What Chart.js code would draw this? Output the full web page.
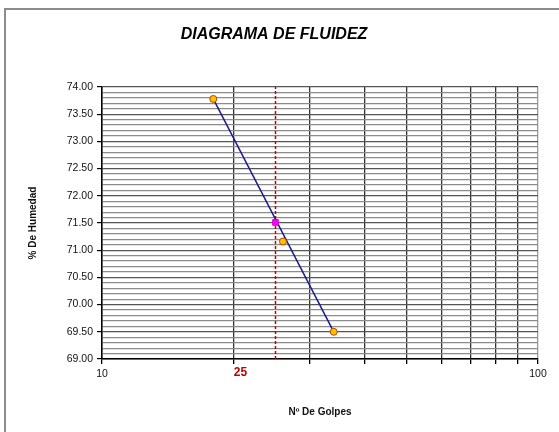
<!DOCTYPE html>
<html>
<head>
<meta charset="utf-8">
<script src="https://cdn.jsdelivr.net/npm/chart.js@4"></script>
<style>
html, body { margin: 0; padding: 0; background: #fff; }
</style>
</head>
<body>
<canvas id="chart" width="559" height="432"></canvas>
<script>
// Diagrama de fluidez (limite liquido)
const golpes = [18, 26, 34];
const humedad = [73.78, 71.16, 69.50];
const ajusteGolpes = [18, 34];
const ajusteHumedad = [73.78, 69.50];
const golpesRef = 25;
const humedadRef = 71.51;
const refLineY = [69, 74];
const xTicks = [10, 20, 30, 40, 50, 60, 70, 80, 90, 100];
const xTickLabels = ['10', '', '', '', '', '', '', '', '', '100'];
const yTickLabels = ['69.00', '69.50', '70.00', '70.50', '71.00', '71.50', '72.00', '72.50', '73.00', '73.50', '74.00'];

const FONT = '"Liberation Sans", Arial, sans-serif';

function isMajorY(v) {
    return Math.abs(v * 2 - Math.round(v * 2)) < 1e-6;
}

// frame, title and the red "25" label
const decor = {
    id: 'decor',
    beforeDraw(chart) {
        const c = chart.ctx;
        c.save();
        c.fillStyle = '#fff';
        c.fillRect(0, 0, chart.width, chart.height);
        c.strokeStyle = '#8c8c8c';
        c.lineWidth = 2;
        c.beginPath();
        c.moveTo(5, chart.height);
        c.lineTo(5, 9);
        c.lineTo(chart.width, 9);
        c.stroke();
        c.restore();
    },
    afterDraw(chart) {
        const c = chart.ctx;
        const xs = chart.scales.x;
        c.save();
        c.fillStyle = '#000';
        c.font = 'italic bold 16px ' + FONT;
        c.textAlign = 'center';
        c.textBaseline = 'middle';
        c.fillText('DIAGRAMA DE FLUIDEZ', 274, 35);
        c.fillStyle = '#c00000';
        c.font = 'bold 12px ' + FONT;
        c.fillText(String(golpesRef), xs.getPixelForValue(golpesRef) - 35, xs.bottom - 59);
        c.restore();
    }
};

new Chart(document.getElementById('chart'), {
    type: 'scatter',
    data: {
        datasets: [
            {
                label: 'Ensayos',
                data: golpes.map((g, i) => ({ x: g, y: humedad[i] })),
                pointRadius: 3.5,
                pointBackgroundColor: '#ffc000',
                pointBorderColor: '#b04a00',
                pointBorderWidth: 1,
                order: 0
            },
            {
                label: 'Humedad a 25 golpes',
                data: [{ x: golpesRef, y: humedadRef }],
                pointStyle: 'rect',
                pointRadius: 4,
                pointBackgroundColor: '#ff00ff',
                pointBorderColor: '#d000d0',
                order: 1
            },
            {
                label: 'Ajuste',
                data: ajusteGolpes.map((g, i) => ({ x: g, y: ajusteHumedad[i] })),
                showLine: true,
                borderColor: '#1c1c8a',
                borderWidth: 1.5,
                pointRadius: 0,
                order: 2
            },
            {
                label: '25 golpes',
                data: refLineY.map(y => ({ x: golpesRef, y })),
                showLine: true,
                borderColor: '#c00000',
                borderWidth: 1.5,
                borderDash: [3, 2],
                pointRadius: 0,
                order: 3
            }
        ]
    },
    options: {
        responsive: false,
        animation: false,
        layout: { padding: { top: 87, left: 0, right: 21, bottom: 0 } },
        plugins: {
            legend: { display: false },
            tooltip: { enabled: false },
            title: { display: false }
        },
        scales: {
            x: {
                type: 'logarithmic',
                min: 10,
                max: 100,
                afterBuildTicks: s => { s.ticks = xTicks.map(v => ({ value: v })); },
                afterFit: s => { s.height = 73; },
                ticks: {
                    autoSkip: false,
                    maxRotation: 0,
                    padding: 4,
                    color: '#111',
                    font: { family: FONT, size: 10.5 },
                    callback: (v, i) => xTickLabels[i]
                },
                grid: {
                    color: ctx => ctx.tick && ctx.tick.value === 100 ? '#9a9a9a' : '#333',
                    lineWidth: 1.3,
                    tickLength: 5,
                    tickColor: '#000'
                },
                border: { color: '#000', width: 1.5 },
                title: {
                    display: true,
                    text: 'Nº De Golpes',
                    color: '#111',
                    font: { family: FONT, size: 10, weight: 'bold' },
                    padding: { top: 0, bottom: 14 }
                }
            },
            y: {
                min: 69,
                max: 74,
                afterBuildTicks: s => {
                    const t = [];
                    for (let i = 0; i <= 50; i++) t.push({ value: +(69 + i * 0.1).toFixed(1) });
                    s.ticks = t;
                },
                afterFit: s => { s.width = 102; },
                ticks: {
                    autoSkip: false,
                    padding: 4,
                    color: '#111',
                    font: { family: FONT, size: 10.5 },
                    callback: v => isMajorY(v) ? yTickLabels[Math.round((v - 69) * 2)] : ''
                },
                grid: {
                    color: ctx => ctx.tick && isMajorY(ctx.tick.value) ? '#555' : '#8c8c8c',
                    lineWidth: 1.2,
                    tickLength: 5,
                    tickColor: ctx => ctx.tick && isMajorY(ctx.tick.value) ? '#000' : 'rgba(0,0,0,0)'
                },
                border: { color: '#000', width: 1.5 },
                title: {
                    display: true,
                    text: '% De Humedad',
                    color: '#111',
                    font: { family: FONT, size: 10, weight: 'bold' },
                    padding: { top: 27, bottom: 0 }
                }
            }
        }
    },
    plugins: [decor]
});
</script>
</body>
</html>
